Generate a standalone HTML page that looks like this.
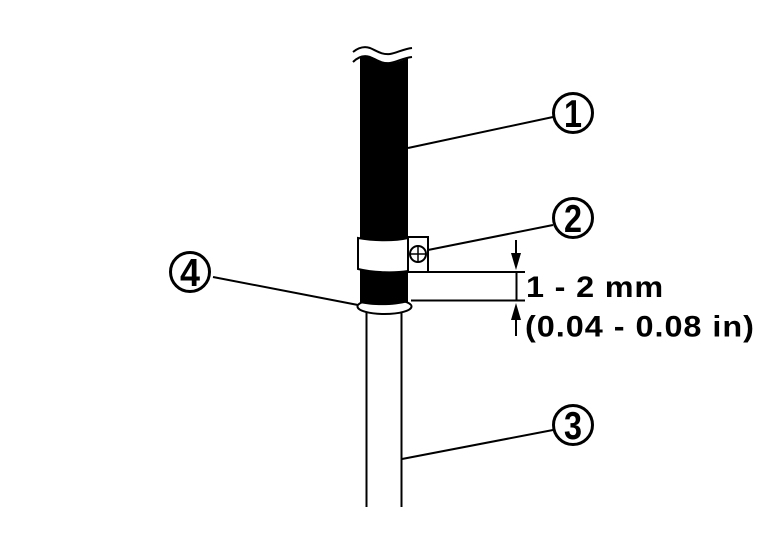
<!DOCTYPE html>
<html>
<head>
<meta charset="utf-8">
<style>
html,body{margin:0;padding:0;background:#fff;width:768px;height:544px;overflow:hidden}
svg{display:block}
text{font-family:"Liberation Sans",Arial,sans-serif;font-weight:bold;fill:#000}
</style>
</head>
<body>
<svg width="768" height="544" viewBox="0 0 768 544" xmlns="http://www.w3.org/2000/svg">
<!-- tube -->
<path d="M366.500 312V507M401.500 312V507" fill="none" stroke="#000" stroke-width="2"/>
<!-- ring -->
<ellipse cx="384.500" cy="306.500" rx="27" ry="7.500" fill="#fff" stroke="#000" stroke-width="2"/>
<!-- black cable -->
<path d="M360 303V58C366 55 372 56 378 60C386 65 394 64 408 58V302C395 306 373 306 360 303Z" fill="#000"/>
<!-- break lines -->
<path d="M353 52C358 48 364 46 370 48C377 51 382 55 390 54C397 53 403 49 412 48" fill="none" stroke="#000" stroke-width="2"/>
<path d="M353 62C358 57 364 55 370 57C377 60 382 64 390 63C397 62 403 58 412 57" fill="none" stroke="#000" stroke-width="2"/>
<!-- clamp -->
<path d="M358 238C375 241 395 241 408 238V271C395 273 375 273 358 269Z" fill="#fff" stroke="#000" stroke-width="2"/>
<path d="M408 237H428V272" fill="none" stroke="#000" stroke-width="2"/>
<circle cx="418" cy="254" r="8" fill="#fff" stroke="#000" stroke-width="2"/>
<path d="M410 254H426M418 246V262" stroke="#000" stroke-width="1.500"/>
<!-- dimension lines -->
<path d="M408 272H525M411 300.500H525M516.500 272V300.500" stroke="#000" stroke-width="2" fill="none"/>
<path d="M516 240V256M516 320V336" stroke="#000" stroke-width="2" fill="none"/>
<path d="M511 253H521L516 270Z" fill="#000"/>
<path d="M511 320H521L516 303Z" fill="#000"/>
<!-- leaders -->
<path d="M408 148L553 117M428 250L553 225M402 459L553 430M213 277L358 305" stroke="#000" stroke-width="2" fill="none"/>
<!-- callouts -->
<g fill="#fff" stroke="#000" stroke-width="3">
<circle cx="573" cy="113" r="19.500"/>
<circle cx="573" cy="218" r="19.500"/>
<circle cx="573" cy="425" r="19.500"/>
<circle cx="190" cy="272" r="19.500"/>
</g>
<text x="564" y="127" font-size="39" textLength="18" lengthAdjust="spacingAndGlyphs">1</text>
<text x="564" y="232" font-size="39" textLength="18" lengthAdjust="spacingAndGlyphs">2</text>
<text x="564" y="439" font-size="39" textLength="18" lengthAdjust="spacingAndGlyphs">3</text>
<text x="180" y="286" font-size="39" textLength="20" lengthAdjust="spacingAndGlyphs">4</text>
<!-- labels -->
<text transform="translate(526 297) scale(1.08 1)" font-size="30" textLength="127" lengthAdjust="spacing">1 - 2 mm</text>
<text transform="translate(525 336.500) scale(1.08 1)" font-size="30" textLength="212" lengthAdjust="spacing">(0.04 - 0.08 in)</text>
</svg>
</body>
</html>
